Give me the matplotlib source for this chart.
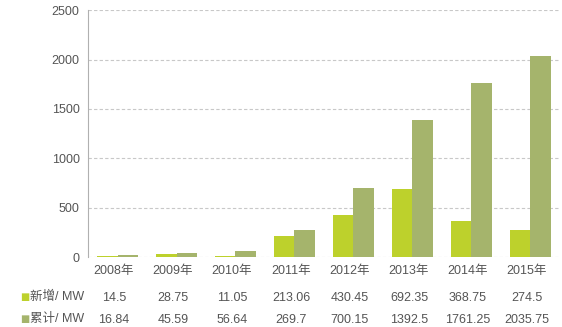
import matplotlib
matplotlib.use("Agg")
import matplotlib.pyplot as plt
import numpy as np

plt.rcParams['font.family'] = ['Liberation Sans', 'Noto Sans CJK SC', 'DejaVu Sans']

years = ["2008年", "2009年", "2010年", "2011年", "2012年", "2013年", "2014年", "2015年"]
new_mw = [14.5, 28.75, 11.05, 213.06, 430.45, 692.35, 368.75, 274.5]
total_mw = [16.84, 45.59, 56.64, 269.7, 700.15, 1392.5, 1761.25, 2035.75]
new_labels = ["14.5", "28.75", "11.05", "213.06", "430.45", "692.35", "368.75", "274.5"]
total_labels = ["16.84", "45.59", "56.64", "269.7", "700.15", "1392.5", "1761.25", "2035.75"]
row_names = ["新增/ MW", "累计/ MW"]

c_new = "#bdd12c"
c_total = "#a5b46c"
txt = "#555555"

fig = plt.figure(figsize=(5.62, 3.27), dpi=100)
ax = fig.add_axes([0.1566, 0.214, 0.8398, 0.755])

x = np.arange(len(years))
w = 0.345
ax.bar(x - w / 2, new_mw, width=w, color=c_new, zorder=3)
ax.bar(x + w / 2, total_mw, width=w, color=c_total, zorder=3)

ax.set_xlim(-0.5, len(years) - 0.5)
ax.set_ylim(0, 2500)
ax.set_yticks(np.arange(0, 2501, 500))
ax.tick_params(axis='y', length=0, labelsize=9, labelcolor=txt, pad=6)
ax.set_xticks([])
ax.yaxis.grid(True, linestyle=(0, (3, 2)), color="#c8c8c8", linewidth=0.8, zorder=0)
for s in ["top", "right", "bottom"]:
    ax.spines[s].set_visible(False)
ax.spines["left"].set_color("#b0b0b0")
ax.spines["left"].set_linewidth(0.8)

# data table below the axis
trans = ax.get_xaxis_transform()
for i in range(len(years)):
    xi = x[i] - 0.06
    ax.text(xi, -0.055, years[i], transform=trans, ha="center", va="center",
            fontsize=9, color=txt, clip_on=False)
    ax.text(xi, -0.165, new_labels[i], transform=trans, ha="center", va="center",
            fontsize=9, color=txt, clip_on=False)
    ax.text(xi, -0.255, total_labels[i], transform=trans, ha="center", va="center",
            fontsize=9, color=txt, clip_on=False)

row_y = [1 - 297 / 327, 1 - 319 / 327]
for name, col, yy in zip(row_names, [c_new, c_total], row_y):
    fig.text(0.035, yy, "■", color=col, fontsize=7, ha="left", va="center",
             family=["DejaVu Sans"])
    fig.text(0.053, yy, name, color=txt, fontsize=9, ha="left", va="center")

fig.savefig("out.png", dpi=100, facecolor="white")
